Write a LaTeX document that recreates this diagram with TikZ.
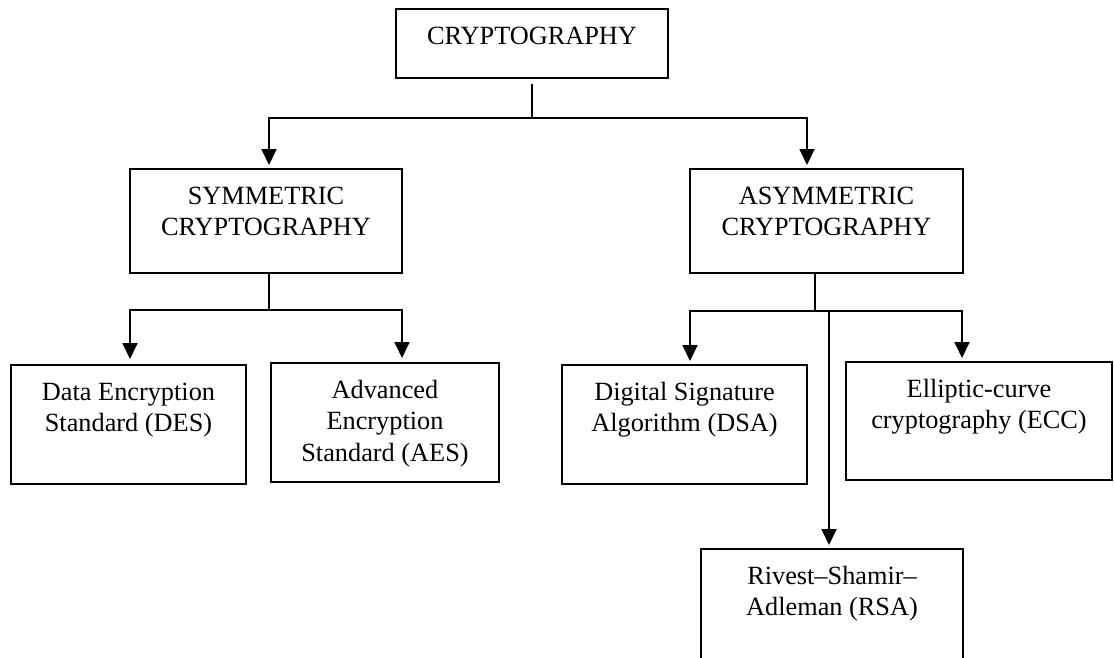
\documentclass[tikz,border=0pt]{standalone}
\usepackage{fontspec}
\setmainfont{Liberation Serif}
\usetikzlibrary{arrows.meta}

% text of a box, set at the top of a w x h frame
\newcommand{\boxtext}[3]{\parbox[c][#2][t]{#1}{\centering\rule{0pt}{35pt}#3}}

\begin{document}
\begin{tikzpicture}[x=1pt, y=-1pt,
	cbox/.style={draw, line width=1.8pt, inner sep=0pt, outer sep=0pt, anchor=north west,
		font=\fontsize{26.3}{31.5}\selectfont},
	conn/.style={line width=1.8pt},
	arr/.style={conn, -{Triangle[width=15pt,length=16pt]}, shorten >=4pt}]

	\useasboundingbox (0,0) rectangle (1114,657);
	\clip (0,0) rectangle (1114,657);

	\node (crypto) [cbox] at (396, 9) {\boxtext{272pt}{69pt}{CRYPTOGRAPHY}};
	\node (sym) [cbox] at (130, 169) {\boxtext{272pt}{104pt}{SYMMETRIC\\CRYPTOGRAPHY}};
	\node (asym) [cbox] at (690, 169) {\boxtext{273pt}{104pt}{ASYMMETRIC\\CRYPTOGRAPHY}};
	\node (des) [cbox] at (11, 365) {\boxtext{235pt}{119pt}{Data Encryption\\Standard (DES)}};
	\node (aes) [cbox] at (271, 363) {\boxtext{228pt}{119pt}{Advanced\\Encryption\\Standard (AES)}};
	\node (dsa) [cbox] at (562, 365) {\boxtext{245pt}{119pt}{Digital Signature\\Algorithm (DSA)}};
	\node (ecc) [cbox] at (846, 362) {\boxtext{266pt}{118pt}{Elliptic-curve\\cryptography (ECC)}};
	\node (rsa) [cbox] at (701, 549) {\boxtext{262pt}{140pt}{Rivest–Shamir–\\Adleman (RSA)}};

	\coordinate (j0) at (532, 118);
	\coordinate (j1) at (269, 310);
	\coordinate (j2) at (815, 311);
	\coordinate (j3) at (829, 311);

	% top level
	\draw[conn] ([yshift=-6pt]crypto.south) -- (j0);
	\draw[arr] (j0) -| ([xshift=3pt]sym.north);
	\draw[arr] (j0) -| ([xshift=-19.5pt]asym.north);

	% symmetric branch
	\draw[conn] (sym.south -| j1) -- (j1);
	\draw[arr, shorten >=6pt] (j1) -| ([xshift=1.5pt]des.north);
	\draw[arr, shorten >=5pt] (j1) -| ([xshift=17pt]aes.north);

	% asymmetric branch
	\draw[conn] (asym.south -| j2) -- (j2);
	\draw[arr] (j2) -| ([xshift=5.5pt]dsa.north);
	\draw[arr] (j2) -| ([xshift=-17pt]ecc.north);
	\draw[arr] (j3) -- (j3 |- rsa.north);

\end{tikzpicture}
\end{document}
